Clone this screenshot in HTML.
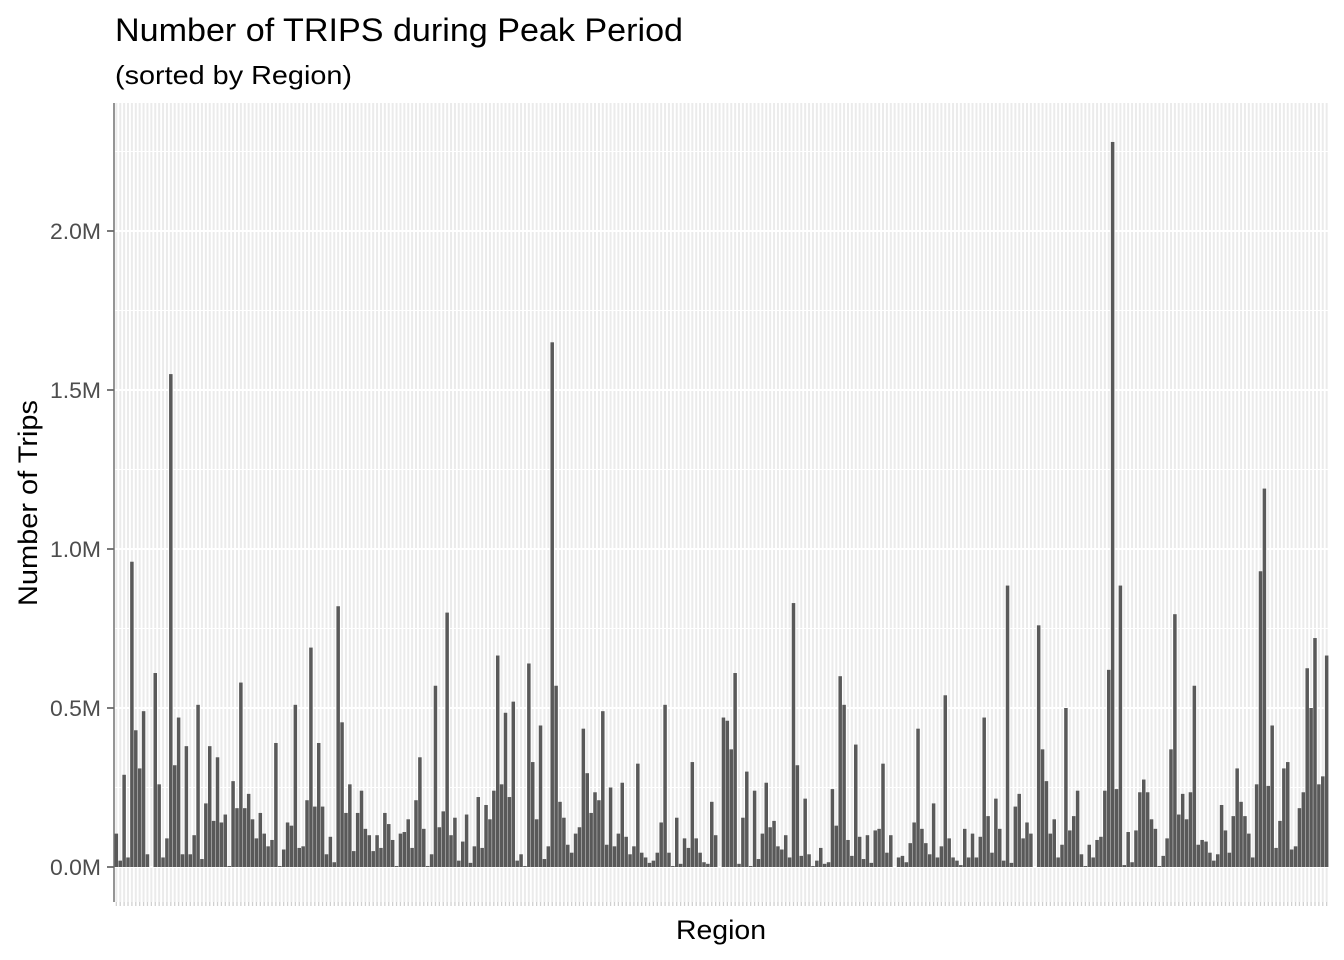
<!DOCTYPE html>
<html><head><meta charset="utf-8"><style>
html,body{margin:0;padding:0;background:#fff;}
svg{display:block;font-family:"Liberation Sans",Arial,sans-serif;}
</style></head><body>
<svg id="chart" width="1344" height="960" viewBox="0 0 1344 960" xmlns="http://www.w3.org/2000/svg">
<rect width="1344" height="960" fill="#fff"/>
<text x="115" y="41" font-size="32" textLength="568" lengthAdjust="spacingAndGlyphs" fill="#000">Number of TRIPS during Peak Period</text>
<text x="115" y="84" font-size="26" textLength="237" lengthAdjust="spacingAndGlyphs" fill="#000">(sorted by Region)</text>
<g id="grid"></g>
<g id="bars"></g>
<g id="axis"></g>
<text x="721" y="939" font-size="27" text-anchor="middle" textLength="90" lengthAdjust="spacingAndGlyphs" fill="#000">Region</text>
<text transform="translate(37,503) rotate(-90)" font-size="27" text-anchor="middle" textLength="206" lengthAdjust="spacingAndGlyphs" fill="#000">Number of Trips</text>
</svg>
<script>
// values in millions of trips, one per region (sorted by region)
const values = [0.105,0.02,0.29,0.03,0.96,0.43,0.31,0.49,0.04,0,0.61,0.26,0.03,0.09,1.55,0.32,0.47,0.04,0.38,0.04,0.10,0.51,0.025,0.20,0.38,0.145,0.345,0.14,0.165,0.003,0.27,0.185,0.58,0.185,0.23,0.15,0.09,0.17,0.105,0.065,0.085,0.39,0.003,0.055,0.14,0.13,0.51,0.06,0.065,0.21,0.69,0.19,0.39,
0.19,0.04,0.095,0.015,0.82,0.455,0.17,0.26,0.05,0.17,0.24,0.12,0.10,0.05,0.10,0.06,0.17,0.135,0.085,0.003,0.105,0.11,0.15,0.06,0.21,0.345,0.12,0.003,0.04,0.57,0.125,0.175,0.80,0.10,0.155,0.02,0.08,0.165,0.013,0.065,0.22,0.06,0.195,0.15,0.24,0.665,0.26,0.485,0.22,0.52,0.02,0.04,
0.003,0.64,0.33,0.15,0.445,0.025,0.065,1.65,0.57,0.205,0.155,0.07,0.045,0.105,0.125,0.435,0.295,0.17,0.235,0.21,0.49,0.07,0.25,0.065,0.105,0.265,0.095,0.04,0.065,0.325,0.045,0.03,0.013,0.02,0.045,0.14,0.51,0.045,0.003,0.155,0.01,0.09,0.06,0.33,0.09,0.045,0.015,0.01,0.205,0.10,0,
0.47,0.46,0.37,0.61,0.01,0.155,0.30,0.003,0.24,0.025,0.105,0.265,0.125,0.145,0.065,0.055,0.10,0.03,0.83,0.32,0.035,0.215,0.04,0.003,0.02,0.06,0.01,0.015,0.245,0.13,0.60,0.51,0.085,0.035,0.385,0.095,0.025,0.10,0.013,0.115,0.12,0.325,0.045,0.10,0,0.03,0.035,0.015,0.075,0.14,0.435,0.12,0.075,
0.04,0.20,0.03,0.065,0.54,0.09,0.03,0.02,0.006,0.12,0.03,0.105,0.03,0.095,0.47,0.16,0.045,0.215,0.12,0.02,0.885,0.013,0.19,0.23,0.09,0.14,0.105,0,0.76,0.37,0.27,0.105,0.15,0.03,0.07,0.50,0.115,0.16,0.24,0.04,0.003,0.07,0.03,0.085,0.095,0.24,0.62,2.28,0.245,0.885,0.006,0.11,
0.015,0.115,0.235,0.275,0.235,0.15,0.12,0.003,0.035,0.09,0.37,0.795,0.165,0.23,0.15,0.235,0.57,0.07,0.085,0.08,0.045,0.02,0.04,0.195,0.115,0.045,0.16,0.31,0.205,0.16,0.105,0.03,0.26,0.93,1.19,0.255,0.445,0.06,0.145,0.31,0.33,0.055,0.065,0.185,0.235,0.625,0.50,0.72,0.26,0.285,0.665];
const yTicks = [0, 0.5, 1.0, 1.5, 2.0];
const yTickLabels = ["0.0M","0.5M","1.0M","1.5M","2.0M"];
const yMinor = [0.25, 0.75, 1.25, 1.75, 2.25];

const NS = "http://www.w3.org/2000/svg";
const L = 114, R = 1329, T = 103, B = 902;
const n = values.length;
const step = (R - L) / (n + 0.2);
const xc = i => L + (i + 0.6) * step;
const y = v => 867 - v * 318;
function mk(tag, attrs, parent) {
  const e = document.createElementNS(NS, tag);
  for (const k in attrs) e.setAttribute(k, attrs[k]);
  parent.appendChild(e);
  return e;
}
const grid = document.getElementById('grid');
const bars = document.getElementById('bars');
const axis = document.getElementById('axis');
for (let i = 0; i < n; i++) {
  const g = mk('line', {x1: xc(i), x2: xc(i), y1: T, y2: B, stroke: '#EBEBEB', 'stroke-width': 2}, grid);
  
  
  const t = mk('line', {x1: xc(i), x2: xc(i), y1: B, y2: B + 4, stroke: '#d0d0d0', 'stroke-width': 1.3}, axis);
  
  
}
yMinor.forEach(v => {
  const g = mk('line', {x1: L, x2: R, y1: y(v), y2: y(v), stroke: '#fff', 'stroke-width': 1}, grid);
  
  
});
yTicks.forEach((v, k) => {
  const g = mk('line', {x1: L, x2: R, y1: y(v), y2: y(v), stroke: '#fff', 'stroke-width': 2}, grid);
  
  
  const t = mk('line', {x1: L - 7, x2: L, y1: y(v), y2: y(v), stroke: '#333', 'stroke-width': 1.3}, axis);
  
  
  const lb = mk('text', {x: L - 13, y: y(v) + 8, 'font-size': 22, 'text-anchor': 'end', fill: '#4D4D4D', textLength: 51, lengthAdjust: 'spacingAndGlyphs'}, axis);
  lb.textContent = yTickLabels[k];
  
  
});
const bw = step * 0.9;
values.forEach((v, i) => {
  const r = mk('rect', {x: xc(i) - bw / 2, y: y(v), width: bw, height: Math.max(0, y(0) - y(v)), fill: '#595959'}, bars);
  
  
});
const ax = mk('line', {x1: L, x2: L, y1: T, y2: B, stroke: '#666', 'stroke-width': 1.4}, axis);


</script>
</body></html>
